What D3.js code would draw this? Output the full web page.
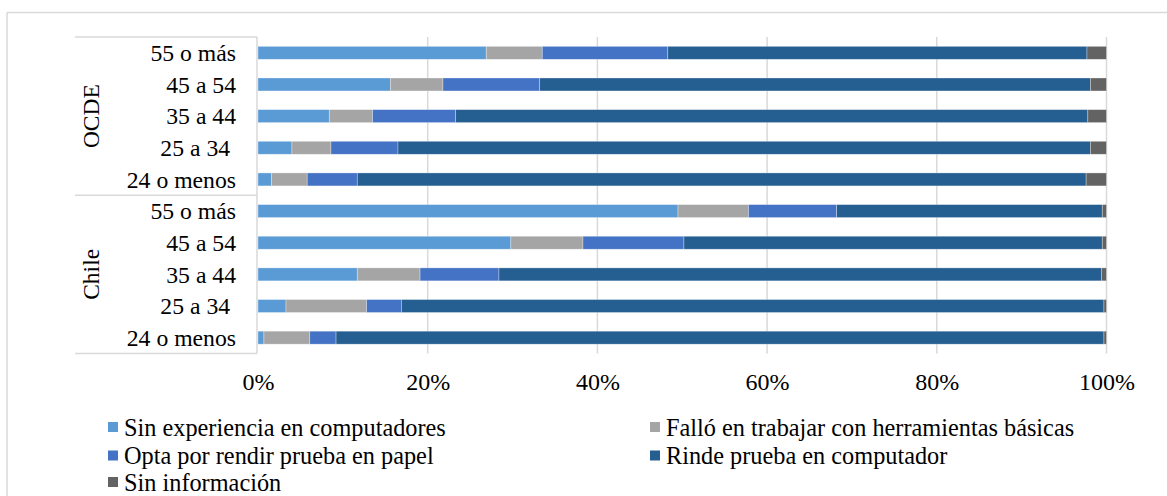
<!DOCTYPE html>
<html lang="es">
<head>
<meta charset="utf-8">
<script src="https://cdn.jsdelivr.net/npm/d3@7"></script>
<style>
  html, body { margin: 0; padding: 0; background: #fff; }
  svg { display: block; }
  text { font-family: "Liberation Serif", "Times New Roman", serif; fill: #000; }
</style>
</head>
<body>
<svg id="chart" width="1167" height="496"></svg>
<script>
// Age groups, listed top to bottom inside each group
const ageGroups = ["55 o más", "45 a 54", "35 a 44", "25 a 34\u00a0", "24 o menos"];
const regions = ["OCDE", "Chile"];

// Share of respondents (%) per row, rows ordered OCDE then Chile, ages as above
const sinExperiencia = [26.9, 15.6, 8.4, 4.0, 1.6, 49.5, 29.8, 11.7, 3.3, 0.7];
const fallo          = [6.6, 6.2, 5.1, 4.6, 4.2, 8.3, 8.5, 7.4, 9.5, 5.4];
const optaPapel      = [14.8, 11.4, 9.8, 7.9, 5.9, 10.4, 11.9, 9.3, 4.1, 3.1];
const rindeComputador= [49.4, 64.9, 74.5, 81.6, 85.9, 31.3, 49.3, 71.0, 82.8, 90.5];
const sinInformacion = [2.3, 1.9, 2.2, 1.9, 2.4, 0.5, 0.5, 0.6, 0.3, 0.3];

const seriesNames = [
  "Sin experiencia en computadores",
  "Falló en trabajar con herramientas básicas",
  "Opta por rendir prueba en papel",
  "Rinde prueba en computador",
  "Sin información"
];
const seriesColors = ["#5B9BD5", "#A5A5A5", "#4472C4", "#255E91", "#636363"];
const tickValues = [0, 20, 40, 60, 80, 100];

const seriesValues = [sinExperiencia, fallo, optaPapel, rindeComputador, sinInformacion];

// One record per bar
const rows = [];
regions.forEach((r, ri) => ageGroups.forEach((a, ai) => {
  const i = ri * ageGroups.length + ai;
  const rec = { key: r + "|" + a, region: r, age: a };
  seriesNames.forEach((s, si) => rec[s] = seriesValues[si][i]);
  rows.push(rec);
}));

const svg = d3.select("#chart");
const grid = "#d9d9d9";

// Outer chart frame (top and left edges visible)
svg.append("line").attr("x1", 7).attr("x2", 1167).attr("y1", 12.5).attr("y2", 12.5)
  .attr("stroke", grid).attr("stroke-width", 1.5);
svg.append("line").attr("x1", 7).attr("x2", 7).attr("y1", 12.5).attr("y2", 496)
  .attr("stroke", grid).attr("stroke-width", 1.5);

const x = d3.scaleLinear().domain([0, 100]).range([258, 1106.5]);
const y = d3.scaleBand().domain(rows.map(d => d.key)).range([37, 353.5])
  .paddingInner(0.59).paddingOuter(0.295);

// Vertical gridlines
svg.append("g").selectAll("line").data(tickValues.filter(t => t > 0)).join("line")
  .attr("x1", d => x(d)).attr("x2", d => x(d))
  .attr("y1", 37).attr("y2", 353.5)
  .attr("stroke", grid).attr("stroke-width", 1.5);

// Stacked bars
const stack = d3.stack().keys(seriesNames);
const layers = stack(rows);
svg.append("g").selectAll("g").data(layers).join("g")
  .attr("fill", (d, i) => seriesColors[i])
  .selectAll("rect").data(d => d).join("rect")
  .attr("x", d => x(d[0]))
  .attr("width", d => x(d[1]) - x(d[0]))
  .attr("y", d => y(d.data.key))
  .attr("height", y.bandwidth())
  .attr("stroke", "#ffffff").attr("stroke-opacity", 0.45).attr("stroke-width", 0.7);

// Category axis line and group table lines
svg.append("line").attr("x1", 257).attr("x2", 257).attr("y1", 37).attr("y2", 353.5)
  .attr("stroke", grid).attr("stroke-width", 1.5);
const splitKey = rows[ageGroups.length].key;
const sepY = [37, y(splitKey) - (y.step() - y.bandwidth()) / 2, 353.5];
svg.append("g").selectAll("line").data(sepY).join("line")
  .attr("x1", 75).attr("x2", 257).attr("y1", d => d).attr("y2", d => d)
  .attr("stroke", grid).attr("stroke-width", 1.5);

// Age labels
svg.append("g").selectAll("text").data(rows).join("text")
  .attr("x", 236)
  .attr("y", d => y(d.key) + y.bandwidth() / 2)
  .attr("dy", "0.35em")
  .attr("text-anchor", "end")
  .style("font-size", "23.7px")
  .text(d => d.age);

// Region labels, rotated
regions.forEach((r, ri) => {
  const cy = (sepY[ri] + sepY[ri + 1]) / 2;
  svg.append("text")
    .attr("transform", `translate(91,${cy}) rotate(-90)`)
    .attr("text-anchor", "middle")
    .attr("dy", "0.35em")
    .style("font-size", "23.5px")
    .text(r);
});

// Value axis labels
const xAxis = d3.axisBottom(x).tickValues(tickValues).tickSize(0).tickPadding(0)
  .tickFormat(d => d + "%");
const gx = svg.append("g").attr("transform", "translate(0,382)").call(xAxis);
gx.select(".domain").remove();
gx.selectAll("text").attr("y", 0).attr("dy", "0.35em")
  .style("font-size", "24px").style("font-family", "'Liberation Serif', serif").attr("fill", "#000");

// Legend
const legendPos = [
  { x: 108, y: 427 }, { x: 650, y: 427 },
  { x: 108, y: 455.5 }, { x: 650, y: 455.5 },
  { x: 108, y: 482 }
];
const lg = svg.append("g").selectAll("g").data(seriesNames).join("g")
  .attr("transform", (d, i) => `translate(${legendPos[i].x},${legendPos[i].y})`);
lg.append("rect").attr("x", 0).attr("y", -5).attr("width", 10).attr("height", 10)
  .attr("fill", (d, i) => seriesColors[i]);
lg.append("text").attr("x", 16).attr("dy", "0.35em")
  .style("font-size", "24.3px").text(d => d);
</script>
</body>
</html>
